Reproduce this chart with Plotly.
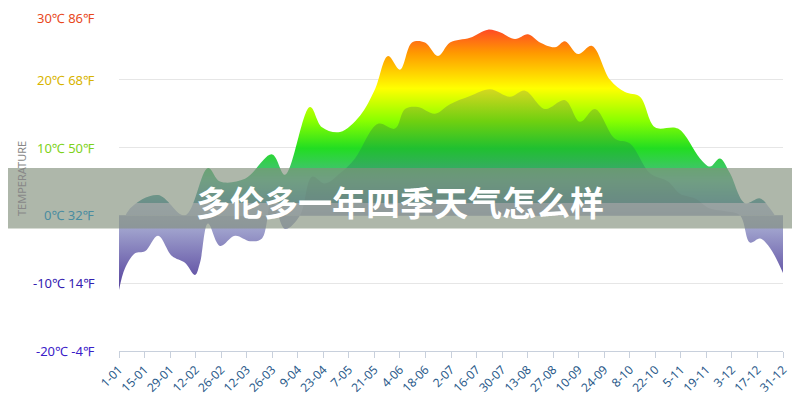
import plotly.graph_objects as go

# x positions read in pixels converted to day-of-year offsets
max_px = [119,130,158,185,208,220,245,272,285,310,322,340,360,375,388,400,412,425,438,450,470,488,500,515,528,540,555,565,578,592,610,625,640,655,678,700,710,720,730,745,760,770,783]
max_temp = [-3,1,3,0,7,5,5.4,9,6,16,13,12.3,14.7,18.6,23.5,21.5,25.5,25.5,23.5,25.5,26.2,27.4,27,26,26.7,25.5,24.8,25.7,23.8,25,20,18.2,17.5,13,12.8,8.4,7.2,8.4,6.2,1.8,2.5,1,-2]
min_px = [119,125,135,145,158,172,185,195,200,208,220,235,250,262,272,285,300,312,325,340,355,378,395,405,418,435,450,470,490,510,525,545,565,580,595,615,630,650,668,680,695,710,725,740,750,760,770,783]
min_temp = [-11,-7.8,-5.6,-5.3,-3,-6,-7,-8.8,-7,-1.2,-4.5,-3,-3.8,-3.4,2.5,-2,0,5.7,4.7,6.2,8.4,13.5,12.8,15.7,16,15,16.4,17.6,18.6,17.5,18.4,15.7,17,13.8,15.7,11.3,10.6,6.2,5,3.2,2.5,1,0.6,0,-4,-3.4,-4.8,-8.5]
tick_labels = ["1-01","15-01","29-01","12-02","26-02","12-03","26-03","9-04","23-04","7-05","21-05","4-06","18-06","2-07","16-07","30-07","13-08","27-08","10-09","24-09","8-10","22-10","5-11","19-11","3-12","17-12","31-12"]
y_vals = [30,20,10,0,-10,-20]
y_text = ["30℃ 86℉","20℃ 68℉","10℃ 50℉","0℃ 32℉","-10℃ 14℉","-20℃ -4℉"]
y_colors = ["#e8481c","#d8b400","#7ed21a","#4a8ca0","#3320b0","#3a20c8"]

def to_day(p):
    return [(v-119)*364/664 for v in p]

cs = [[0,"#6a58b0"],[0.2,"#aeb0dc"],[0.3,"#c0c4e6"],[0.301,"#3f8ea2"],[0.38,"#4fb890"],[0.5,"#22dd22"],[0.6,"#88ff00"],[0.72,"#ffff00"],[0.85,"#ff9900"],[1,"#ff1040"]]
cs2 = [[0,"#5a48a0"],[0.2,"#9ea0cc"],[0.3,"#b0b4d6"],[0.301,"#3a7e92"],[0.38,"#44a080"],[0.5,"#20c030"],[0.6,"#70d010"],[0.72,"#d8d820"],[0.85,"#e89010"],[1,"#e01040"]]

fig = go.Figure()
fig.add_trace(go.Scatter(x=to_day(max_px), y=max_temp, mode="lines", line=dict(width=0, shape="spline"),
    fill="tozeroy", fillgradient=dict(type="vertical", colorscale=cs, start=-10, stop=30), hoverinfo="skip"))
fig.add_trace(go.Scatter(x=to_day(min_px), y=min_temp, mode="lines", line=dict(width=0, shape="spline"),
    fill="tozeroy", fillgradient=dict(type="vertical", colorscale=cs2, start=-10, stop=30), hoverinfo="skip"))

ann = []
for v, t, c in zip(y_vals, y_text, y_colors):
    ann.append(dict(x=-0.033, y=v, xref="paper", yref="y", text=t, showarrow=False, xanchor="right",
                    yshift=-6 if v == 30 else 0, font=dict(size=13, color=c)))
ann.append(dict(x=-0.162, y=0.51, xref="paper", yref="paper", text="TEMPERATURE", textangle=-90, showarrow=False,
                font=dict(size=11, color="#888")))
ann.append(dict(x=0.423, y=0.44, xref="paper", yref="paper", text="<b>多伦多一年四季天气怎么样</b>", showarrow=False,
                font=dict(size=34, color="white", family="Noto Sans CJK SC")))

fig.update_layout(
    width=792, height=392, margin=dict(l=111, r=17, t=4, b=47),
    paper_bgcolor="white", plot_bgcolor="white", showlegend=False,
    font=dict(family="Noto Sans, DejaVu Sans"),
    xaxis=dict(range=[0,364], tickvals=list(range(0,365,14)), ticktext=tick_labels, tickangle=-45,
               tickfont=dict(size=12, color="#2a5a8a"), showgrid=False, showline=True, linecolor="#c8d0dc",
               ticks="outside", tickcolor="#c8d0dc", ticklen=6, zeroline=False),
    yaxis=dict(range=[-20,30], tickvals=y_vals, showticklabels=False, gridcolor="#e6e6e6", zeroline=False),
    annotations=ann,
    shapes=[dict(type="rect", xref="paper", yref="paper", x0=-0.2, x1=1.05, y0=0.361, y1=0.54,
                 fillcolor="rgba(130,145,125,0.65)", line=dict(width=0), layer="above")],
)
fig.write_html("out.html")
